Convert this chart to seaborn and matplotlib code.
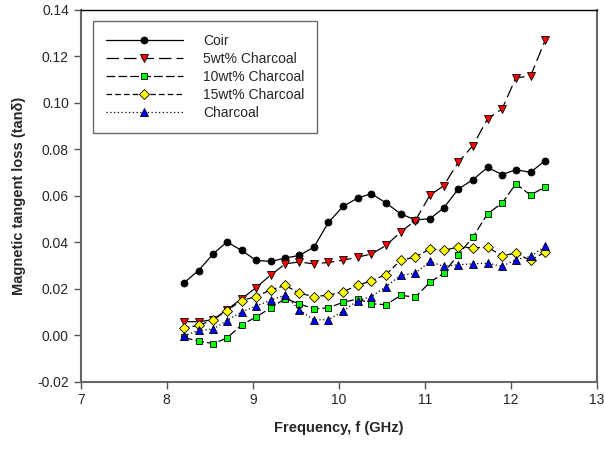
import matplotlib
matplotlib.use("Agg")
import matplotlib.pyplot as plt
import seaborn as sns

# frequency points (GHz)
freq = [8.20, 8.37, 8.54, 8.70, 8.87, 9.04, 9.21, 9.38, 9.54, 9.71, 9.88, 10.05, 10.22,
        10.38, 10.55, 10.72, 10.89, 11.06, 11.22, 11.39, 11.56, 11.73, 11.90, 12.06, 12.23, 12.40]

coir = [0.0225, 0.0278, 0.0350, 0.0401, 0.0365, 0.0322, 0.0317, 0.0332, 0.0343, 0.0378,
        0.0485, 0.0554, 0.0590, 0.0609, 0.0569, 0.0522, 0.0496, 0.0501, 0.0547, 0.0629,
        0.0669, 0.0722, 0.0691, 0.0712, 0.0701, 0.0751]
char5 = [0.0058, 0.0058, 0.0066, 0.0110, 0.0156, 0.0205, 0.0259, 0.0307, 0.0315, 0.0307,
         0.0313, 0.0322, 0.0336, 0.0349, 0.0386, 0.0444, 0.0493, 0.0602, 0.0643, 0.0744,
         0.0816, 0.0931, 0.0974, 0.1108, 0.1115, 0.1269]
char10 = [-0.0010, -0.0026, -0.0036, -0.0013, 0.0044, 0.0078, 0.0118, 0.0157, 0.0135, 0.0113,
          0.0118, 0.0141, 0.0156, 0.0135, 0.0131, 0.0171, 0.0164, 0.0227, 0.0267, 0.0346,
          0.0422, 0.0522, 0.0569, 0.0651, 0.0603, 0.0638]
char15 = [0.0031, 0.0042, 0.0066, 0.0106, 0.0149, 0.0166, 0.0195, 0.0214, 0.0181, 0.0166,
          0.0172, 0.0187, 0.0214, 0.0234, 0.0261, 0.0322, 0.0336, 0.0371, 0.0365, 0.0379,
          0.0376, 0.0378, 0.0342, 0.0353, 0.0322, 0.0358]
charcoal = [-0.0003, 0.0020, 0.0026, 0.0063, 0.0100, 0.0125, 0.0151, 0.0172, 0.0109, 0.0066,
            0.0066, 0.0103, 0.0149, 0.0166, 0.0209, 0.0257, 0.0267, 0.0317, 0.0296, 0.0303,
            0.0307, 0.0310, 0.0296, 0.0325, 0.0339, 0.0382]

labels = ["Coir", "5wt% Charcoal", "10wt% Charcoal", "15wt% Charcoal", "Charcoal"]
markers = ["o", "v", "s", "D", "^"]
fills = ["black", "#ff0000", "#00ff00", "#ffff00", "#0000ff"]
estilos = ["-", (0, (10, 4)), (0, (7, 2.5)), (0, (4.5, 2.5)), (0, (1, 2))]
tamanhos = [5, 6, 5, 5, 6]

sns.set_theme(style="ticks")
plt.rcParams["font.family"] = ["Liberation Sans", "DejaVu Sans"]
plt.rcParams["axes.unicode_minus"] = False

fig, ax = plt.subplots(figsize=(6.04, 4.5), dpi=100)
fig.subplots_adjust(left=0.1336, right=0.988, top=0.978, bottom=0.152)

for lab, ys, mk, fc, ls, ms in zip(labels, [coir, char5, char10, char15, charcoal],
                                   markers, fills, estilos, tamanhos):
    sns.lineplot(x=freq, y=ys, ax=ax, color="black", linewidth=0.9, linestyle=ls,
                 marker=mk, markersize=ms, markerfacecolor=fc, markeredgecolor="black",
                 markeredgewidth=0.6, label=lab)

ax.set_xlim(7, 13)
ax.set_ylim(-0.02, 0.14)
ax.set_xticks([7, 8, 9, 10, 11, 12, 13])
ax.set_yticks([-0.02, 0.0, 0.02, 0.04, 0.06, 0.08, 0.10, 0.12, 0.14])
ax.set_yticklabels([f"{v:.2f}" for v in ax.get_yticks()])
ax.tick_params(axis="both", labelsize=10, length=5, width=1, color="#555555", direction="out")

for lado in ["left", "bottom", "right"]:
    ax.spines[lado].set_color("#666666")
    ax.spines[lado].set_linewidth(1.5)
ax.spines["top"].set_color("black")
ax.spines["top"].set_linewidth(1)

ax.set_xlabel("Frequency, f (GHz)", fontsize=10.5, fontweight="bold", labelpad=10)
ax.set_ylabel("Magnetic tangent loss (tan\u03b4)", fontsize=10.5, fontweight="bold", labelpad=8)

leg = ax.legend(loc="upper left", bbox_to_anchor=(0.024, 0.970), borderaxespad=0,
                fontsize=10, handlelength=5.6, frameon=True, fancybox=False,
                borderpad=0.9, labelspacing=0.3, handletextpad=1.4)
leg.get_frame().set_edgecolor("#444444")
leg.get_frame().set_linewidth(1)

plt.savefig("out.png", dpi=100)
